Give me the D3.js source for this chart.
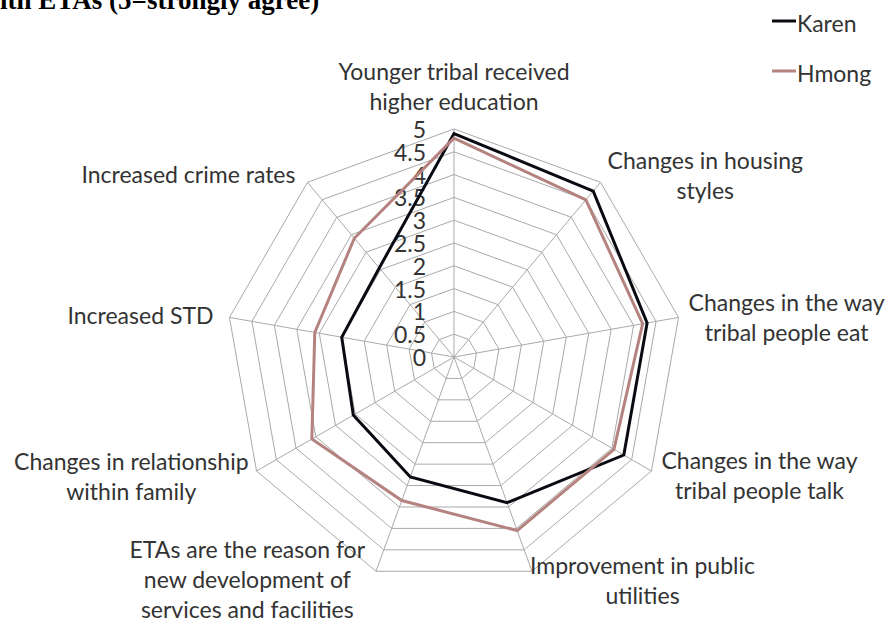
<!DOCTYPE html>
<html>
<head>
<meta charset="utf-8">
<script src="https://cdn.jsdelivr.net/npm/d3@7"></script>
<style>
  html, body { margin: 0; padding: 0; background: #fff; }
  svg { display: block; }
  .lbl { font-family: Lato, "Open Sans", sans-serif; fill: #333333; }
</style>
</head>
<body>
<svg id="chart" width="886" height="621"></svg>
<script>
// Survey statements (one radar axis each), multi-line labels
const categories = [
  ["Younger tribal received", "higher education"],
  ["Changes in housing", "styles"],
  ["Changes in the way", "tribal people eat"],
  ["Changes in the way", "tribal people talk"],
  ["Improvement in public", "utilities"],
  ["ETAs are the reason for", "new development of", "services and facilities"],
  ["Changes in relationship", "within family"],
  ["Increased STD"],
  ["Increased crime rates"]
];

// Mean agreement scores (5 = strongly agree)
const karen = [4.9, 4.75, 4.3, 4.3, 3.4, 2.8, 2.55, 2.5, 2.55];
const hmong = [4.8, 4.5, 4.2, 4.05, 4.05, 3.35, 3.6, 3.1, 3.4];

const seriesNames = ["Karen", "Hmong"];
const seriesColors = ["#0a0a12", "#b5837f"];

// Radial tick values
const tickValues = [0, 0.5, 1, 1.5, 2, 2.5, 3, 3.5, 4, 4.5, 5];

// Label placement tweaks per axis: horizontal gap from the outer vertex, vertical shift of the block
const labelGap = [0, 7, 10, 10, -2, 11, 8, 16, 12];
const labelShift = [-43, -7, 0, 4, 9, 8, 5, -2, -8];

const svg = d3.select("#chart");
const cx = 454, cy = 357, R = 228;
const fontSize = 23, lineH = 30;

const r = d3.scaleLinear().domain([0, 5]).range([0, R]);
const angle = d3.scaleLinear().domain([0, categories.length]).range([0, 2 * Math.PI]);

const g = svg.append("g").attr("transform", `translate(${cx},${cy})`);
const pt = (i, v) => [Math.sin(angle(i)) * r(v), -Math.cos(angle(i)) * r(v)];
const idx = d3.range(categories.length);

// Title (runs past the top edge)
svg.append("text")
  .attr("x", 0).attr("y", 9)
  .attr("font-family", "'Liberation Serif', 'Times New Roman', serif")
  .attr("font-weight", "bold")
  .attr("font-size", 27)
  .attr("fill", "#000")
  .text("ith ETAs (5=strongly agree)");

// Grid rings
const ring = d3.lineRadial()
  .angle(i => angle(i))
  .curve(d3.curveLinearClosed);

g.selectAll("path.ring")
  .data(tickValues.filter(v => v > 0))
  .join("path")
  .attr("class", "ring")
  .attr("d", v => ring.radius(() => r(v))(idx))
  .attr("fill", "none")
  .attr("stroke", "#a9a9a9")
  .attr("stroke-width", 1);

// Spokes
g.selectAll("line.spoke")
  .data(idx)
  .join("line")
  .attr("class", "spoke")
  .attr("x1", 0).attr("y1", 0)
  .attr("x2", i => pt(i, 5)[0])
  .attr("y2", i => pt(i, 5)[1])
  .attr("stroke", "#a9a9a9")
  .attr("stroke-width", 1);

// Radial tick labels along the top axis
g.selectAll("text.tick")
  .data(tickValues)
  .join("text")
  .attr("class", "lbl tick")
  .attr("x", -28)
  .attr("y", v => -r(v))
  .attr("text-anchor", "end")
  .attr("dominant-baseline", "central")
  .attr("font-size", 23)
  .text(v => v);

// Series polygons
const line = d3.lineRadial()
  .angle((d, i) => angle(i))
  .radius(d => r(d))
  .curve(d3.curveLinearClosed);

[karen, hmong].forEach((s, k) => {
  g.append("path")
    .attr("d", line(s))
    .attr("fill", "none")
    .attr("stroke", seriesColors[k])
    .attr("stroke-width", 3)
    .attr("stroke-linejoin", "miter");
});

// Axis category labels, center-aligned blocks placed outside each vertex
categories.forEach((lines, i) => {
  const [vx, vy] = pt(i, 5);
  const t = g.append("text").attr("class", "lbl").attr("font-size", fontSize)
    .attr("text-anchor", "middle");
  lines.forEach((s, j) => {
    t.append("tspan").attr("x", 0)
      .attr("y", (j - (lines.length - 1) / 2) * lineH)
      .attr("dominant-baseline", "central")
      .text(s);
  });
  const w = d3.max(t.selectAll("tspan").nodes(), n => n.getComputedTextLength());
  const s = Math.sin(angle(i));
  let x;
  if (Math.abs(s) < 0.1) x = vx;
  else if (s > 0) x = vx + labelGap[i] + w / 2;
  else x = vx - labelGap[i] - w / 2;
  t.attr("transform", `translate(${x},${vy + labelShift[i]})`);
});

// Legend
const legend = svg.append("g");
seriesNames.forEach((name, k) => {
  const y = 21 + k * 50;
  legend.append("line")
    .attr("x1", 772).attr("x2", 796)
    .attr("y1", y).attr("y2", y)
    .attr("stroke", seriesColors[k]).attr("stroke-width", 3);
  legend.append("text").attr("class", "lbl")
    .attr("x", 797).attr("y", y + 2)
    .attr("dominant-baseline", "central")
    .attr("font-size", fontSize)
    .text(name);
});
</script>
</body>
</html>
